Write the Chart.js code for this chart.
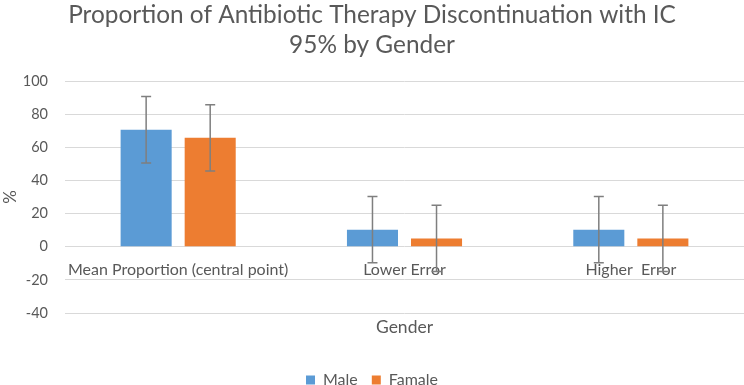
<!DOCTYPE html>
<html>
<head>
<meta charset="utf-8">
<script src="https://cdn.jsdelivr.net/npm/chart.js@4/dist/chart.umd.min.js"></script>
<style>
  html, body { margin: 0; padding: 0; background: #fff; }
  #wrap { width: 744px; height: 385px; }
</style>
</head>
<body>
<div id="wrap"><canvas id="chart"></canvas></div>
<script>
// data
const categories = ['Mean Proportion (central point)', 'Lower Error', 'Higher  Error'];
const maleValues = [70.6, 10.3, 10.3];
const femaleValues = [65.7, 5.0, 5.0];
const maleErrors = [20, 20, 20];
const femaleErrors = [20, 20, 20];
const yTicks = [-40, -20, 0, 20, 40, 60, 80, 100];

const textColor = '#595959';
const fontFamily = 'Lato, "Open Sans", sans-serif';

// category names sit just under the zero line, like Excel does it
const categoryLabels = {
    id: 'categoryLabels',
    beforeDatasetsDraw(chart) {
        const ctx = chart.ctx;
        const x = chart.scales.x;
        const y = chart.scales.y;
        const base = y.getPixelForValue(0);
        ctx.save();
        ctx.fillStyle = textColor;
        ctx.font = '16px ' + fontFamily;
        ctx.textAlign = 'center';
        ctx.textBaseline = 'middle';
        categories.forEach((c, i) => {
            ctx.fillText(c, x.getPixelForValue(i), base + 23);
        });
        ctx.restore();
    }
};

// plus/minus error bars with small caps
const errorBars = {
    id: 'errorBars',
    afterDatasetsDraw(chart) {
        const ctx = chart.ctx;
        const y = chart.scales.y;
        const errs = [maleErrors, femaleErrors];
        ctx.save();
        ctx.strokeStyle = '#7f7f7f';
        ctx.lineWidth = 1.5;
        chart.data.datasets.forEach((ds, d) => {
            const meta = chart.getDatasetMeta(d);
            meta.data.forEach((bar, i) => {
                const v = ds.data[i];
                const top = y.getPixelForValue(v + errs[d][i]);
                const bot = y.getPixelForValue(v - errs[d][i]);
                ctx.beginPath();
                ctx.moveTo(bar.x, top);
                ctx.lineTo(bar.x, bot);
                ctx.moveTo(bar.x - 5, top);
                ctx.lineTo(bar.x + 5, top);
                ctx.moveTo(bar.x - 5, bot);
                ctx.lineTo(bar.x + 5, bot);
                ctx.stroke();
            });
        });
        ctx.restore();
    }
};

new Chart(document.getElementById('chart'), {
    type: 'bar',
    data: {
        labels: categories,
        datasets: [{
            label: 'Male',
            data: maleValues,
            backgroundColor: '#5B9BD5'
        }, {
            label: 'Famale',
            data: femaleValues,
            backgroundColor: '#ED7D31'
        }]
    },
    options: {
        responsive: true,
        maintainAspectRatio: false,
        animation: false,
        layout: { padding: 0 },
        datasets: {
            bar: { categoryPercentage: 0.566, barPercentage: 0.797 }
        },
        plugins: {
            title: {
                display: true,
                text: ['Proportion of Antibiotic Therapy Discontinuation with IC', '95% by Gender'],
                color: textColor,
                font: { family: fontFamily, size: 24.4, weight: 'normal', lineHeight: 1.22 },
                padding: { top: 0, bottom: 21.5 }
            },
            legend: {
                position: 'bottom',
                maxHeight: 27,
                labels: {
                    color: textColor,
                    font: { family: fontFamily, size: 16 },
                    boxWidth: 9,
                    boxHeight: 9,
                    padding: 14
                }
            },
            tooltip: { enabled: false }
        },
        scales: {
            x: {
                grid: { display: false },
                border: { display: false },
                ticks: { display: false },
                title: {
                    display: true,
                    text: 'Gender',
                    color: textColor,
                    font: { family: fontFamily, size: 17.5, lineHeight: 1.0 },
                    padding: { top: -2, bottom: 21.5 }
                }
            },
            y: {
                min: -40,
                max: 100,
                afterBuildTicks(axis) {
                    axis.ticks = yTicks.map(v => ({ value: v }));
                },
                afterFit(axis) {
                    axis.width = 65;
                },
                grid: { color: '#d9d9d9', lineWidth: 1, drawTicks: false },
                border: { display: false },
                ticks: {
                    color: textColor,
                    font: { family: fontFamily, size: 14.5 },
                    padding: 17
                },
                title: {
                    display: true,
                    text: '%',
                    color: textColor,
                    font: { family: fontFamily, size: 17 },
                    padding: { top: 0, bottom: 4 }
                }
            }
        }
    },
    plugins: [categoryLabels, errorBars]
});
</script>
</body>
</html>
